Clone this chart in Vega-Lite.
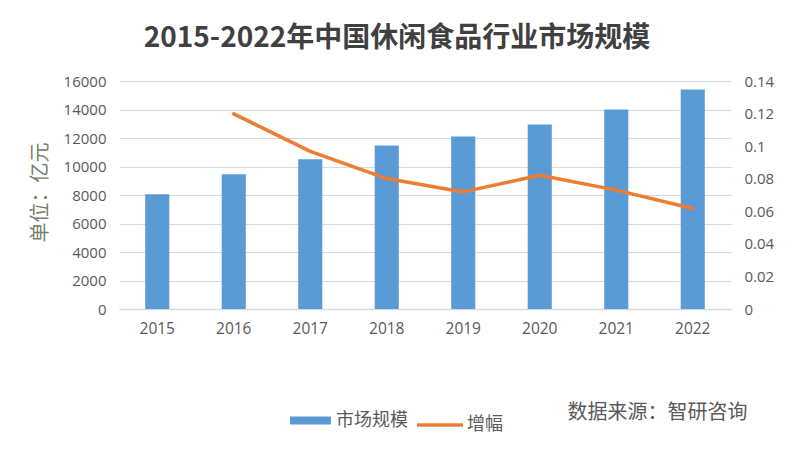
{
  "$schema": "https://vega.github.io/schema/vega-lite/v6.json",
  "width": 612,
  "height": 228,
  "autosize": "none",
  "padding": {"left": 119, "top": 81, "right": 63, "bottom": 143},
  "background": "white",
  "title": {
    "text": "2015-2022年中国休闲食品行业市场规模",
    "font": "Noto Sans CJK SC",
    "fontSize": 28,
    "fontWeight": "bold",
    "color": "#404040",
    "anchor": "middle",
    "frame": "group",
    "dx": -28,
    "offset": 21
  },
  "data": {
    "values": [
      {"year": "2015", "size": 8060, "growth": null, "s1": "市场规模", "s2": "增幅"},
      {"year": "2016", "size": 9460, "growth": 0.1198, "s1": "市场规模", "s2": "增幅"},
      {"year": "2017", "size": 10510, "growth": 0.0968, "s1": "市场规模", "s2": "增幅"},
      {"year": "2018", "size": 11480, "growth": 0.0801, "s1": "市场规模", "s2": "增幅"},
      {"year": "2019", "size": 12110, "growth": 0.0719, "s1": "市场规模", "s2": "增幅"},
      {"year": "2020", "size": 12950, "growth": 0.0821, "s1": "市场规模", "s2": "增幅"},
      {"year": "2021", "size": 14000, "growth": 0.073, "s1": "市场规模", "s2": "增幅"},
      {"year": "2022", "size": 15400, "growth": 0.0617, "s1": "市场规模", "s2": "增幅"}
    ]
  },
  "encoding": {
    "x": {
      "field": "year",
      "type": "ordinal",
      "scale": {"paddingInner": 0.685, "paddingOuter": 0.3425},
      "axis": {
        "title": "数据来源：智研咨询",
        "titleX": 538,
        "titleY": 103,
        "titleAlign": "center",
        "titleBaseline": "middle",
        "titleFont": "Noto Sans CJK SC",
        "titleFontSize": 20,
        "titleFontWeight": "normal",
        "titleColor": "#595959",
        "labelAngle": 0,
        "labelFont": "Open Sans",
        "labelFontSize": 15.5,
        "labelColor": "#595959",
        "labelPadding": 12,
        "ticks": false,
        "domainColor": "#d9d9d9",
        "domainWidth": 1.5,
        "grid": false
      }
    }
  },
  "layer": [
    {
      "mark": {"type": "bar"},
      "encoding": {
        "y": {
          "field": "size",
          "type": "quantitative",
          "scale": {"domain": [0, 16000], "nice": false},
          "axis": {
            "values": [0, 2000, 4000, 6000, 8000, 10000, 12000, 14000, 16000],
            "format": "d",
            "title": "单位：亿元",
            "titleX": -79,
            "titleY": 111,
            "titleAngle": -90,
            "titleAlign": "center",
            "titleBaseline": "middle",
            "titleFont": "Noto Sans CJK SC",
            "titleFontSize": 20,
            "titleFontWeight": "normal",
            "titleColor": "#73806a",
            "labelFont": "Open Sans",
            "labelFontSize": 15,
            "labelColor": "#595959",
            "labelPadding": 13,
            "ticks": false,
            "domain": false,
            "grid": true,
            "gridColor": "#d9d9d9",
            "gridWidth": 1.2
          }
        },
        "fill": {
          "field": "s1",
          "type": "nominal",
          "scale": {"range": ["#5B9BD5"]},
          "legend": {
            "title": null,
            "orient": "none",
            "legendX": 171,
            "legendY": 319,
            "padding": 0,
            "symbolType": "M-1,-0.2L1,-0.2L1,0.2L-1,0.2Z",
            "symbolSize": 1681,
            "symbolStrokeWidth": 0,
            "labelFont": "Noto Sans CJK SC",
            "labelFontSize": 18,
            "labelColor": "#595959",
            "labelOffset": 5
          }
        }
      }
    },
    {
      "mark": {"type": "line", "strokeWidth": 3.5, "strokeCap": "round", "strokeJoin": "round"},
      "encoding": {
        "y": {
          "field": "growth",
          "type": "quantitative",
          "scale": {"domain": [0, 0.14], "nice": false},
          "axis": {
            "orient": "right",
            "values": [0, 0.02, 0.04, 0.06, 0.08, 0.1, 0.12, 0.14],
            "format": "~g",
            "title": null,
            "labelFont": "Open Sans",
            "labelFontSize": 15,
            "labelColor": "#595959",
            "labelPadding": 13,
            "ticks": false,
            "domain": false,
            "grid": false
          }
        },
        "stroke": {
          "field": "s2",
          "type": "nominal",
          "scale": {"range": ["#ED7D31"]},
          "legend": {
            "title": null,
            "orient": "none",
            "legendX": 296,
            "legendY": 319,
            "padding": 0,
            "symbolType": "stroke",
            "symbolSize": 2116,
            "symbolStrokeWidth": 3.5,
            "labelFont": "Noto Sans CJK SC",
            "labelFontSize": 18,
            "labelColor": "#595959",
            "labelOffset": 2
          }
        }
      }
    }
  ],
  "resolve": {"scale": {"y": "independent"}},
  "config": {"view": {"stroke": null}}
}
